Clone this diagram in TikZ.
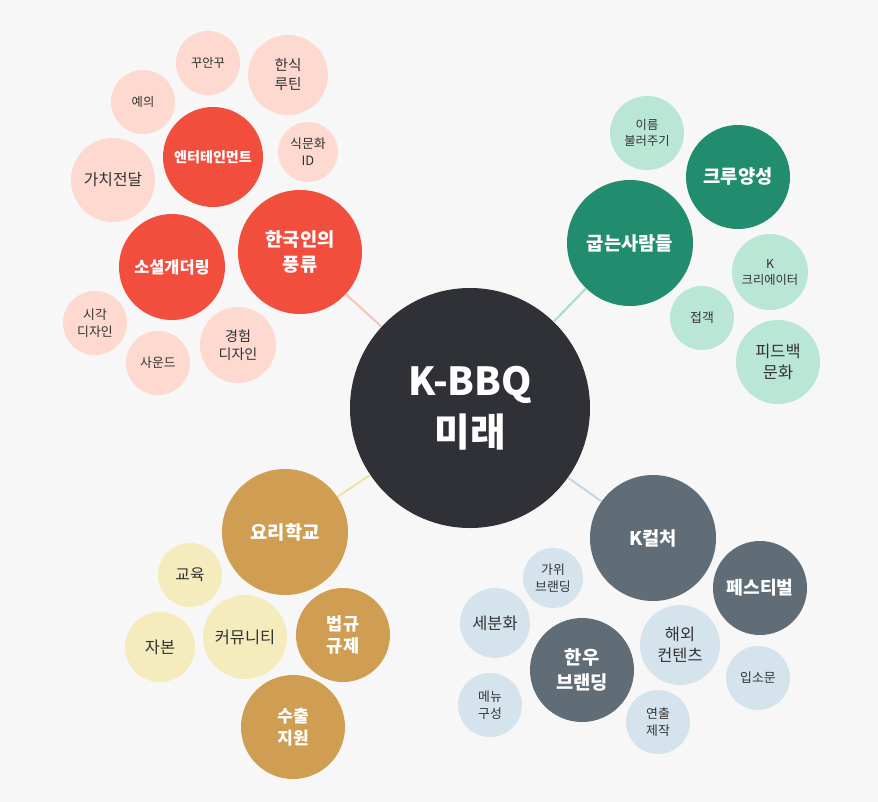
\documentclass[tikz,border=0pt]{standalone}
\usepackage{fontspec}
\setmainfont{Noto Sans CJK KR}
\definecolor{bg}{HTML}{F7F7F7}
\definecolor{hubgray}{HTML}{2F3136}
\definecolor{redmain}{HTML}{F24E3E}
\definecolor{redlight}{HTML}{FDD9CF}
\definecolor{redline}{HTML}{F8C4B8}
\definecolor{greenmain}{HTML}{228C6E}
\definecolor{greenlight}{HTML}{BAE6D6}
\definecolor{greenline}{HTML}{A8DEC9}
\definecolor{goldmain}{HTML}{D09E52}
\definecolor{goldlight}{HTML}{F5ECBE}
\definecolor{goldline}{HTML}{F0E2A4}
\definecolor{slatemain}{HTML}{606D76}
\definecolor{slatelight}{HTML}{D5E4EC}
\definecolor{slateline}{HTML}{C2D8E4}
\definecolor{leaftext}{HTML}{333333}
\tikzset{
  bubble/.style={circle, inner sep=0pt, align=center, minimum size=#1*0.6mm},
  fsize/.style={font=\linespread{1.3}\fontsize{#1}{#1}\selectfont},
  topic/.style={bubble=#1, text=white, font=\bfseries\linespread{1.3}\fontsize{16}{16}\selectfont},
  leaf/.style={bubble=#1, text=leaftext},
  link/.style={line width=0.6mm}
}
\begin{document}
\begin{tikzpicture}[x=0.3mm, y=-0.3mm]
  % background and page size
  \fill[bg] (0,0) rectangle (878,802);
  \useasboundingbox (0,0) rectangle (878,802);

  % centre
  \node[bubble=120, fill=hubgray, text=white,
        font=\bfseries\fontsize{33}{44}\selectfont] (hub) at (470,408) {K-BBQ\\미래};

  % top left cluster
  \node[topic=62, fill=redmain] (pungryu) at (300,252) {한국인의\\풍류};
  \node[topic=50, fill=redmain, fsize=12] (enter) at (213,157) {\bfseries 엔터테인먼트};
  \node[topic=53, fill=redmain, fsize=14] (social) at (172,267) {\bfseries 소셜개더링};
  \foreach \x/\y/\r/\s/\t [count=\i] in {
      208/63/32/10.5/꾸안꾸, 288/75/40/12.5/한식\\루틴, 143/102/32/10.5/예의,
      308/152/30/11/식문화\\ID, 113/180/42/13.5/가치전달, 95/323/32/11/시각\\디자인,
      158/363/32/11/사운드, 238/345/38/12/경험\\디자인}
    \node[leaf=\r, fill=redlight, fsize=\s] (redleaf\i) at (\x,\y) {\t};

  % top right cluster
  \node[topic=63, fill=greenmain] (baker) at (630,243) {굽는사람들};
  \node[topic=52, fill=greenmain] (crew) at (738,177) {크루양성};
  \foreach \x/\y/\r/\s/\t [count=\i] in {
      647/133/37/10.5/이름\\불러주기, 770/272/38/10.5/K\\크리에이터,
      702/318/32/11/접객, 778/362/42/14/피드백\\문화}
    \node[leaf=\r, fill=greenlight, fsize=\s] (greenleaf\i) at (\x,\y) {\t};

  % bottom left cluster
  \node[topic=63, fill=goldmain] (school) at (285,532) {요리학교};
  \node[topic=47, fill=goldmain, fsize=15] (law) at (343,635) {\bfseries 법규\\\bfseries 규제};
  \node[topic=52, fill=goldmain, fsize=14.5] (export) at (293,727) {\bfseries 수출\\\bfseries 지원};
  \foreach \x/\y/\r/\s/\t [count=\i] in {
      190/575/32/13.5/교육, 160/647/35/14/자본, 245/637/42/14/커뮤니티}
    \node[leaf=\r, fill=goldlight, fsize=\s] (goldleaf\i) at (\x,\y) {\t};

  % bottom right cluster
  \node[topic=63, fill=slatemain] (kculture) at (653,538) {K컬처};
  \node[topic=47, fill=slatemain, fsize=15.5] (festival) at (760,588) {\bfseries 페스티벌};
  \node[topic=52, fill=slatemain] (hanwoo) at (582,670) {한우\\브랜딩};
  \foreach \x/\y/\r/\s/\t [count=\i] in {
      553/578/30/11/가위\\브랜딩, 495/623/35/14/세분화, 680/645/40/14/해외\\컨텐츠,
      758/678/32/11/입소문, 490/705/32/11/메뉴\\구성, 658/722/32/11/연출\\제작}
    \node[leaf=\r, fill=slatelight, fsize=\s] (slateleaf\i) at (\x,\y) {\t};

  % links from the centre
  \draw[link, redline] (hub) -- (pungryu);
  \draw[link, greenline] (hub) -- (baker);
  \draw[link, goldline] (hub) -- (school);
  \draw[link, slateline] (hub) -- (kculture);
\end{tikzpicture}
\end{document}
